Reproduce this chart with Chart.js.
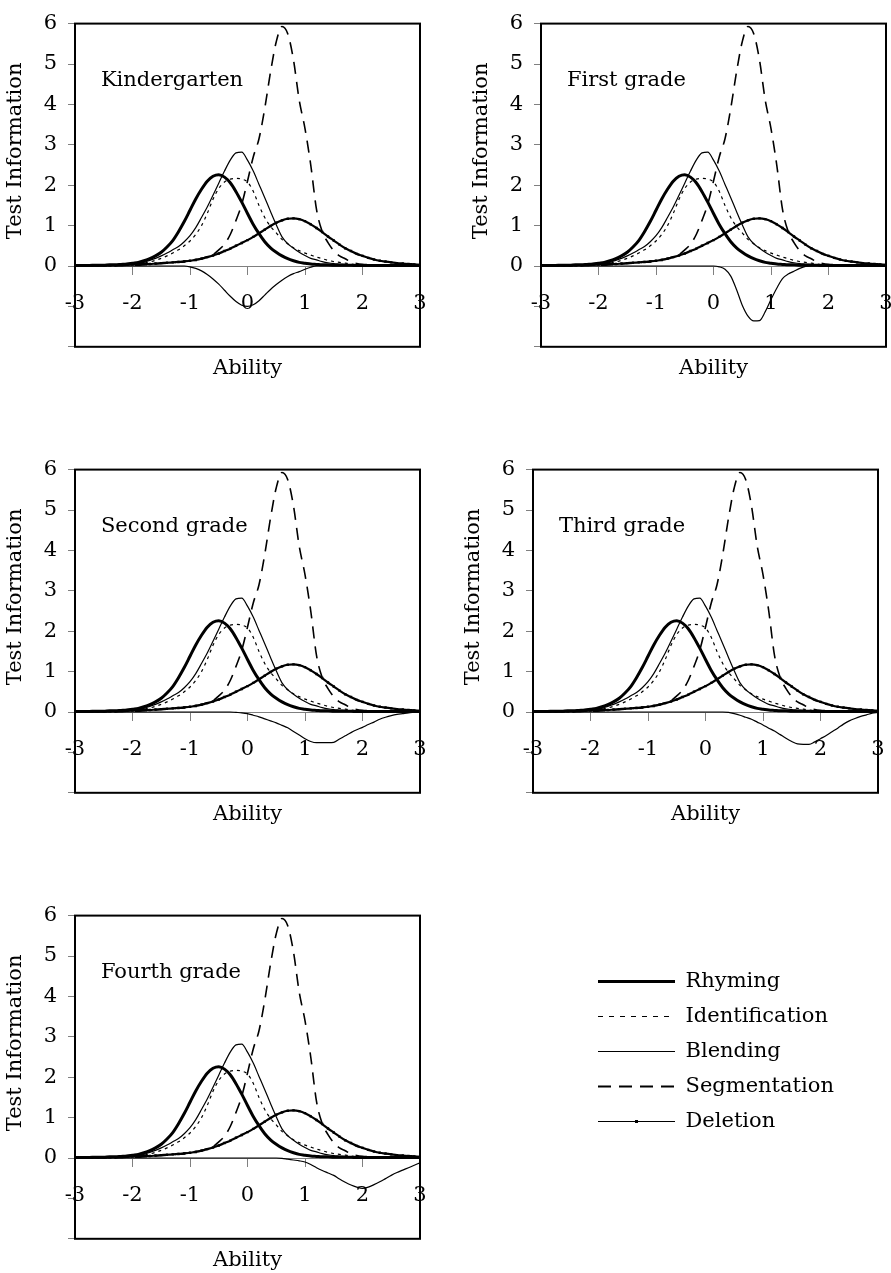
<!DOCTYPE html>
<html>
<head>
<meta charset="utf-8">
<title>Test information by grade</title>
<script src="https://cdn.jsdelivr.net/npm/chart.js@4.4.1/dist/chart.umd.min.js"></script>
<style>
  html, body { margin: 0; padding: 0; background: #fff; overflow: hidden; }
  #page { position: relative; width: 891px; height: 1273px; overflow: hidden; }
  canvas { position: absolute; }
</style>
</head>
<body>
<div id="page">
  <canvas id="panel0" width="428" height="388" style="left:0px;top:0px"></canvas>
  <canvas id="panel1" width="425" height="388" style="left:466px;top:0px"></canvas>
  <canvas id="panel2" width="428" height="388" style="left:0px;top:446px"></canvas>
  <canvas id="panel3" width="428" height="388" style="left:458px;top:446px"></canvas>
  <canvas id="panel4" width="428" height="388" style="left:0px;top:892px"></canvas>
  <canvas id="legendBox" width="300" height="400" style="left:584px;top:957px"></canvas>
</div>
<script>
// ability grid, -3 to 3 by 0.1
const ability = [
  -3.0, -2.9, -2.8, -2.7, -2.6, -2.5, -2.4, -2.3, -2.2, -2.1,
  -2.0, -1.9, -1.8, -1.7, -1.6, -1.5, -1.4, -1.3, -1.2, -1.1,
  -1.0, -0.9, -0.8, -0.7, -0.6, -0.5, -0.4, -0.3, -0.2, -0.1,
   0.0,  0.1,  0.2,  0.3,  0.4,  0.5,  0.6,  0.7,  0.8,  0.9,
   1.0,  1.1,  1.2,  1.3,  1.4,  1.5,  1.6,  1.7,  1.8,  1.9,
   2.0,  2.1,  2.2,  2.3,  2.4,  2.5,  2.6,  2.7,  2.8,  2.9,
   3.0
];

// subtest information curves (same in every panel)
const rhyming = [
  0.01, 0.01, 0.01, 0.02, 0.02, 0.02, 0.03, 0.03, 0.04, 0.05,
  0.07, 0.09, 0.13, 0.18, 0.25, 0.34, 0.47, 0.63, 0.85, 1.10,
  1.38, 1.66, 1.90, 2.10, 2.22, 2.26, 2.20, 2.06, 1.84, 1.58,
  1.30, 1.03, 0.80, 0.60, 0.45, 0.34, 0.25, 0.18, 0.13, 0.09,
  0.07, 0.05, 0.04, 0.03, 0.03, 0.02, 0.02, 0.02, 0.02, 0.01,
  0.01, 0.01, 0.01, 0.01, 0.01, 0.01, 0.01, 0.01, 0.01, 0.01,
  0.01
];
const identification = [
  0.00, 0.00, 0.00, 0.01, 0.01, 0.01, 0.01, 0.02, 0.02, 0.02,
  0.03, 0.05, 0.07, 0.10, 0.14, 0.19, 0.25, 0.32, 0.40, 0.50,
  0.62, 0.78, 1.00, 1.30, 1.65, 1.92, 2.08, 2.15, 2.17, 2.15,
  2.08, 1.85, 1.50, 1.20, 0.98, 0.82, 0.66, 0.55, 0.45, 0.38,
  0.32, 0.27, 0.22, 0.18, 0.14, 0.11, 0.09, 0.07, 0.05, 0.04,
  0.03, 0.03, 0.02, 0.02, 0.02, 0.01, 0.01, 0.01, 0.01, 0.01,
  0.01
];
const blending = [
  0.00, 0.00, 0.00, 0.01, 0.01, 0.01, 0.01, 0.02, 0.02, 0.03,
  0.04, 0.06, 0.09, 0.14, 0.19, 0.25, 0.32, 0.40, 0.48, 0.60,
  0.75, 0.95, 1.20, 1.46, 1.75, 2.05, 2.35, 2.62, 2.80, 2.82,
  2.62, 2.35, 2.02, 1.69, 1.35, 1.02, 0.72, 0.55, 0.44, 0.34,
  0.26, 0.19, 0.15, 0.11, 0.08, 0.06, 0.05, 0.04, 0.03, 0.02,
  0.02, 0.02, 0.01, 0.01, 0.01, 0.01, 0.01, 0.01, 0.01, 0.00,
  0.00
];
const segmentation = [
  0.00, 0.00, 0.00, 0.00, 0.01, 0.01, 0.01, 0.01, 0.01, 0.02,
  0.02, 0.02, 0.03, 0.04, 0.05, 0.06, 0.07, 0.08, 0.10, 0.12,
  0.14, 0.16, 0.19, 0.23, 0.28, 0.40, 0.54, 0.78, 1.13, 1.53,
  2.10, 2.70, 3.15, 3.90, 4.80, 5.55, 5.93, 5.75, 5.10, 4.10,
  3.40, 2.50, 1.40, 0.85, 0.58, 0.38, 0.25, 0.18, 0.10, 0.06,
  0.04, 0.03, 0.02, 0.02, 0.01, 0.01, 0.01, 0.01, 0.00, 0.00,
  0.00
];
const deletion = [
  0.01, 0.01, 0.01, 0.01, 0.02, 0.02, 0.02, 0.02, 0.03, 0.03,
  0.04, 0.04, 0.05, 0.05, 0.06, 0.07, 0.08, 0.09, 0.10, 0.11,
  0.13, 0.15, 0.18, 0.22, 0.26, 0.31, 0.37, 0.43, 0.50, 0.57,
  0.64, 0.72, 0.81, 0.90, 0.99, 1.07, 1.13, 1.17, 1.18, 1.16,
  1.11, 1.03, 0.94, 0.84, 0.73, 0.63, 0.53, 0.44, 0.37, 0.30,
  0.25, 0.20, 0.16, 0.13, 0.11, 0.09, 0.07, 0.06, 0.05, 0.04,
  0.03
];

// grade-specific curve drawn below zero
const diffK = [
  0, 0, 0, 0, 0, 0, 0, 0, 0, 0,
  0, 0, 0, 0, 0, 0, 0, 0, 0, 0,
  -0.02, -0.06, -0.12, -0.21, -0.32, -0.45, -0.60, -0.75, -0.88, -0.97,
  -1.00, -0.96, -0.86, -0.72, -0.58, -0.46, -0.35, -0.26, -0.19, -0.14,
  -0.08, -0.03, 0, 0, 0, 0, 0, 0, 0, 0,
  0, 0, 0, 0, 0, 0, 0, 0, 0, 0,
  0
];
const diffG1 = [
  0, 0, 0, 0, 0, 0, 0, 0, 0, 0,
  0, 0, 0, 0, 0, 0, 0, 0, 0, 0,
  0, 0, 0, 0, 0, 0, 0, 0, 0, 0,
  0.00, -0.02, -0.08, -0.25, -0.58, -0.97, -1.24, -1.36, -1.35, -1.13,
  -0.83, -0.55, -0.31, -0.20, -0.13, -0.06, -0.01, 0, 0, 0,
  0, 0, 0, 0, 0, 0, 0, 0, 0, 0,
  0
];
const diffG2 = [
  0, 0, 0, 0, 0, 0, 0, 0, 0, 0,
  0, 0, 0, 0, 0, 0, 0, 0, 0, 0,
  0, 0, 0, 0, 0, 0, 0, 0, -0.01, -0.02,
  -0.04, -0.08, -0.12, -0.17, -0.22, -0.27, -0.33, -0.39, -0.48, -0.57,
  -0.66, -0.73, -0.76, -0.76, -0.76, -0.75, -0.67, -0.59, -0.51, -0.44,
  -0.38, -0.31, -0.25, -0.18, -0.13, -0.09, -0.06, -0.04, -0.02, -0.01,
  0
];
const diffG3 = [
  0, 0, 0, 0, 0, 0, 0, 0, 0, 0,
  0, 0, 0, 0, 0, 0, 0, 0, 0, 0,
  0, 0, 0, 0, 0, 0, 0, 0, 0, 0,
  0, 0, 0, 0, -0.01, -0.04, -0.08, -0.13, -0.18, -0.25,
  -0.32, -0.40, -0.47, -0.56, -0.65, -0.73, -0.79, -0.80, -0.80, -0.74,
  -0.66, -0.58, -0.49, -0.40, -0.30, -0.22, -0.16, -0.11, -0.07, -0.03,
  -0.01
];
const diffG4 = [
  0, 0, 0, 0, 0, 0, 0, 0, 0, 0,
  0, 0, 0, 0, 0, 0, 0, 0, 0, 0,
  0, 0, 0, 0, 0, 0, 0, 0, 0, 0,
  0, 0, 0, 0, 0, 0, -0.01, -0.03, -0.05, -0.07,
  -0.10, -0.16, -0.24, -0.31, -0.37, -0.43, -0.52, -0.60, -0.67, -0.72,
  -0.75, -0.72, -0.66, -0.59, -0.51, -0.43, -0.36, -0.30, -0.24, -0.18,
  -0.12
];

const grades = ['Kindergarten', 'First grade', 'Second grade', 'Third grade', 'Fourth grade'];
const gradeDiffs = [diffK, diffG1, diffG2, diffG3, diffG4];

const FONT = "'DejaVu Serif', serif";
Chart.defaults.font.family = FONT;
Chart.defaults.font.size = 21;
Chart.defaults.color = '#000';

const pts = arr => ability.map((a, i) => ({x: a, y: arr[i]}));

// line styles of the five subtests
function seriesList()
{
    return [
        {label: 'Rhyming', data: pts(rhyming), borderColor: '#000', borderWidth: 3, pointRadius: 0},
        {label: 'Identification', data: pts(identification), borderColor: '#000', borderWidth: 1.2, borderDash: [3, 4], pointRadius: 0},
        {label: 'Blending', data: pts(blending), borderColor: '#000', borderWidth: 1.2, pointRadius: 0},
        {label: 'Segmentation', data: pts(segmentation), borderColor: '#000', borderWidth: 1.6, borderDash: [12, 8], pointRadius: 0},
        {label: 'Deletion', data: pts(deletion), borderColor: '#000', borderWidth: 2.2, pointRadius: 1.7,
         pointStyle: 'rect', pointBackgroundColor: '#000', pointBorderWidth: 0}
    ];
}

// black frame round the plot area, the y title and the grade label
const panelDecor = {
    id: 'panelDecor',
    beforeDatasetsDraw(chart) {
        const {ctx, chartArea: a} = chart;
        ctx.save();
        ctx.strokeStyle = '#000';
        ctx.lineWidth = 2;
        ctx.strokeRect(a.left, a.top, a.right - a.left, a.bottom - a.top);
        ctx.restore();
    },
    afterDatasetsDraw(chart, args, opts) {
        const {ctx, scales} = chart;
        ctx.save();
        ctx.font = '21px ' + FONT;
        ctx.fillStyle = '#000';
        ctx.textBaseline = 'middle';
        ctx.fillText(opts.text, scales.x.getPixelForValue(-2.55), scales.y.getPixelForValue(4.6));
        // y title sits centred on the positive part of the axis
        ctx.translate(16, scales.y.getPixelForValue(2.85));
        ctx.rotate(-Math.PI / 2);
        ctx.textAlign = 'center';
        ctx.fillText('Test Information', 0, 0);
        ctx.restore();
    }
};

function makePanel(i, rightPad)
{
    const datasets = seriesList();
    datasets.push({label: 'diff', data: pts(gradeDiffs[i]), borderColor: '#000', borderWidth: 1.2, pointRadius: 0});

    new Chart(document.getElementById('panel' + i), {
        type: 'line',
        data: {datasets: datasets},
        plugins: [panelDecor],
        options: {
            responsive: false,
            animation: false,
            layout: {padding: {left: 0, top: 19, right: rightPad, bottom: 0}},
            elements: {line: {cubicInterpolationMode: 'monotone'}},
            scales: {
                x: {
                    type: 'linear',
                    position: {y: 0},
                    min: -3, max: 3,
                    ticks: {stepSize: 1, padding: 17, maxRotation: 0, color: '#000'},
                    grid: {drawOnChartArea: false, tickLength: 8, color: '#808080'},
                    border: {color: '#808080', width: 1},
                    afterFit: s => { s.paddingLeft = 0; s.paddingRight = 0; }
                },
                y: {
                    min: -2, max: 6,
                    ticks: {stepSize: 1, padding: 11, color: '#000', callback: v => v < 0 ? '' : v},
                    grid: {drawOnChartArea: false, tickLength: 7, color: '#808080'},
                    border: {color: '#000', width: 2},
                    afterFit: s => { s.width = 75; }
                }
            },
            plugins: {
                legend: {display: false},
                tooltip: {enabled: false},
                title: {display: true, text: 'Ability', position: 'bottom', fullSize: false, color: '#000',
                        font: {size: 21, weight: 'normal'}, padding: {top: 9, bottom: 7}},
                panelDecor: {text: grades[i]}
            }
        }
    });
}

makePanel(0, 8);
makePanel(1, 5);
makePanel(2, 8);
makePanel(3, 8);
makePanel(4, 8);

// small marker in the middle of the Deletion legend line
const legendDot = {
    id: 'legendDot',
    afterDraw(chart) {
        const hb = chart.legend.legendHitBoxes[4];
        if (!hb) return;
        const ctx = chart.ctx;
        ctx.save();
        ctx.fillStyle = '#000';
        ctx.fillRect(hb.left + 77 / 2 - 1.5, hb.top + hb.height / 2 - 1.5, 3, 3);
        ctx.restore();
    }
};

// shared legend in the empty sixth cell; swatches as drawn in the key
const legendLook = {
    Identification: {borderDash: [5, 6], borderWidth: 1.2},
    Segmentation: {borderDash: [13, 8], borderWidth: 2},
    Deletion: {borderWidth: 1.2}
};
const legendSets = seriesList().map(d => Object.assign({}, d, {data: []}, legendLook[d.label] || {}));
new Chart(document.getElementById('legendBox'), {
    type: 'line',
    data: {datasets: legendSets},
    plugins: [legendDot],
    options: {
        responsive: false,
        animation: false,
        scales: {x: {display: false}, y: {display: false}},
        plugins: {
            tooltip: {enabled: false},
            legend: {
                position: 'top',
                align: 'start',
                onClick: null,
                labels: {
                    usePointStyle: true,
                    pointStyleWidth: 77,
                    padding: 14,
                    color: '#000',
                    font: {size: 21},
                    generateLabels: chart => chart.data.datasets.map((d, i) => ({
                        text: d.label,
                        datasetIndex: i,
                        hidden: false,
                        fillStyle: '#000',
                        strokeStyle: '#000',
                        fontColor: '#000',
                        lineWidth: d.borderWidth,
                        lineDash: d.borderDash || [],
                        pointStyle: 'line'
                    }))
                }
            }
        }
    }
});
</script>
</body>
</html>
